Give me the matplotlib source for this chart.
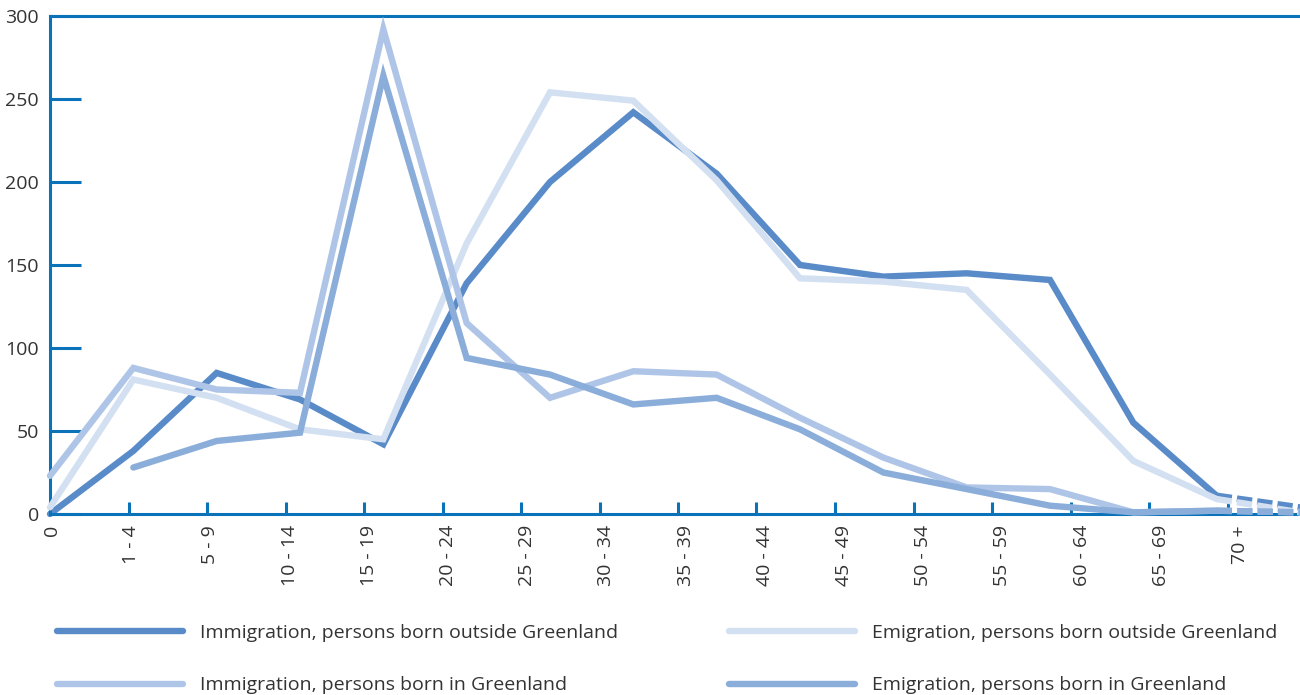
import numpy as np
import matplotlib.pyplot as plt

plt.rcParams['font.family'] = ['Open Sans', 'DejaVu Sans']

# age groups (x categories)
age_groups = ['0', '1 - 4', '5 - 9', '10 - 14', '15 - 19', '20 - 24', '25 - 29', '30 - 34',
              '35 - 39', '40 - 44', '45 - 49', '50 - 54', '55 - 59', '60 - 64', '65 - 69', '70 +']

# values
imm_outside = [0, 38, 85, 69, 42, 139, 200, 242, 205, 150, 143, 145, 141, 55, 11, 4]
emi_outside = [4, 81, 70, 51, 45, 163, 254, 249, 201, 142, 140, 135, 84, 32, 9, 1]
imm_green = [23, 88, 75, 73, 292, 115, 70, 86, 84, 58, 34, 16, 15, 1, 2, 1]
emi_green = [np.nan, 28, 44, 49, 264, 94, 84, 66, 70, 51, 25, 15, 5, 1, 2, 1]

series_names = ['Immigration, persons born outside Greenland',
                'Emigration, persons born outside Greenland',
                'Immigration, persons born in Greenland',
                'Emigration, persons born in Greenland']
series_vals = [imm_outside, emi_outside, imm_green, emi_green]
series_colors = ['#5a8bc9', '#d3e0f2', '#afc5e7', '#8badda']

axis_col = '#0a72b8'
text_col = '#333333'

fig = plt.figure(figsize=(13, 6.95), dpi=100)
ax = fig.add_axes([50 / 1300, 1 - 514 / 695, 1250 / 1300, 498 / 695])

x = np.arange(len(age_groups))
lines = []
for i, (name, vals, col) in enumerate(zip(series_names, series_vals, series_colors)):
    vals = np.array(vals, dtype=float)
    ln, = ax.plot(x[:-1], vals[:-1], color=col, lw=4.6, label=name,
                  solid_capstyle='round', solid_joinstyle='miter', zorder=2 + i, clip_on=False)
    # last age group drawn dashed
    ax.plot(x[-2:], vals[-2:], color=col, lw=4.6, dashes=(2.4, 0.8),
            dash_capstyle='butt', zorder=2 + i, clip_on=False)
    lines.append(ln)

ax.set_xlim(0, len(age_groups) - 1)
ax.set_ylim(0, 300)

# tick marks and tick labels sit on slightly narrower grids than the data points
px_per_unit = 1250 / 15
tick_step = 78.5 / px_per_unit
label_step = 79.2 / px_per_unit
ax.set_xticks(np.arange(len(age_groups)) * tick_step)
ax.set_xticklabels([])
ax.set_xticks(2 / px_per_unit + np.arange(len(age_groups)) * label_step, minor=True)
ax.set_xticklabels(age_groups, minor=True, rotation=90, va='top', ha='center')
ax.set_yticks([0, 50, 100, 150, 200, 250, 300])

ax.tick_params(axis='y', direction='in', length=22, width=2.2, color=axis_col,
               labelsize=14, labelcolor=text_col, pad=8)
ax.tick_params(axis='x', which='major', direction='in', length=9, width=2.2, color=axis_col)
ax.tick_params(axis='x', which='minor', length=0, labelsize=14, labelcolor=text_col, pad=8)
for lab in ax.get_yticklabels():
    lab.set_va('center_baseline')

for side in ['left', 'top', 'bottom']:
    ax.spines[side].set_color(axis_col)
    ax.spines[side].set_linewidth(2.2)
ax.spines['right'].set_visible(False)

# legend in two columns
leg_kw = dict(loc='center left', frameon=False, fontsize=14, handlelength=6.5,
              handletextpad=0.85, labelspacing=1.8, labelcolor=text_col,
              borderpad=0, borderaxespad=0)
leg1 = fig.legend(handles=[lines[0], lines[2]], bbox_to_anchor=(57 / 1300, 1 - 659 / 695), **leg_kw)
leg2 = fig.legend(handles=[lines[1], lines[3]], bbox_to_anchor=(729 / 1300, 1 - 659 / 695), **leg_kw)

fig.savefig('out.png', dpi=100)
